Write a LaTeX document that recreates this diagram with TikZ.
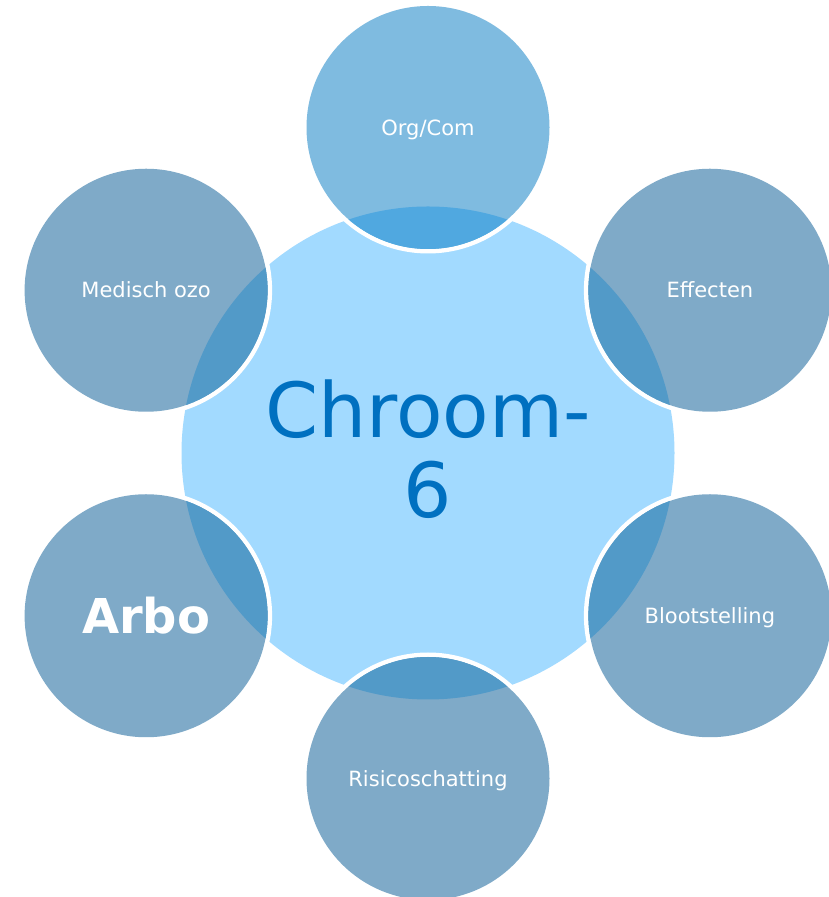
\documentclass[tikz,border=0pt]{standalone}
\usepackage{fontspec}
\setmainfont{DejaVu Sans}
\definecolor{hub}{RGB}{162,218,255}
\definecolor{hubtext}{RGB}{0,112,192}
\definecolor{outbase}{RGB}{127,170,200}
\definecolor{outover}{RGB}{82,154,200}
\definecolor{orgbase}{RGB}{127,187,224}
\definecolor{orgover}{RGB}{80,168,224}
\tikzset{
  lbl/.style={text=white, font=\fontsize{21}{25}\selectfont, text height=15.3pt, text depth=0pt, inner sep=0pt},
  biglbl/.style={text=white, font=\bfseries\fontsize{48}{56}\selectfont, text height=35pt, text depth=0pt, inner sep=0pt},
  hublbl/.style={text=hubtext, font=\fontsize{76}{80}\selectfont, align=center, inner sep=0pt}
}
\begin{document}
\begin{tikzpicture}[x=1pt,y=1pt]
\useasboundingbox (0,0) rectangle (828,897);
\coordinate (ctr) at (428,444);
\fill[hub] (ctr) circle[radius=246.5pt];
\foreach \name/\ang/\base/\over in {org/90/orgbase/orgover, eff/30/outbase/outover, bloot/-30/outbase/outover, risico/-90/outbase/outover, arbo/-150/outbase/outover, med/150/outbase/outover} {
  \coordinate (\name) at ([shift={(\ang:325.5pt)}]ctr);
  \fill[white, even odd rule] (\name) circle[radius=126pt] (\name) circle[radius=121.5pt];
  \fill[\base] (\name) circle[radius=121.5pt];
  \begin{scope}
    \clip (ctr) circle[radius=246.5pt];
    \fill[\over] (\name) circle[radius=121.5pt];
  \end{scope}
}
\node[lbl] (torg) at (org) {Org/Com};
\node[lbl] (teff) at (eff) {Effecten};
\node[lbl] (tbloot) at (bloot) {Blootstelling};
\node[lbl] (trisico) at (risico) {Risicoschatting};
\node[biglbl] (tarbo) at (arbo) {Arbo};
\node[lbl] (tmed) at (med) {Medisch ozo};
\node[hublbl] (thub) at (428,447.4) {Chroom-\\6};
\end{tikzpicture}
\end{document}
